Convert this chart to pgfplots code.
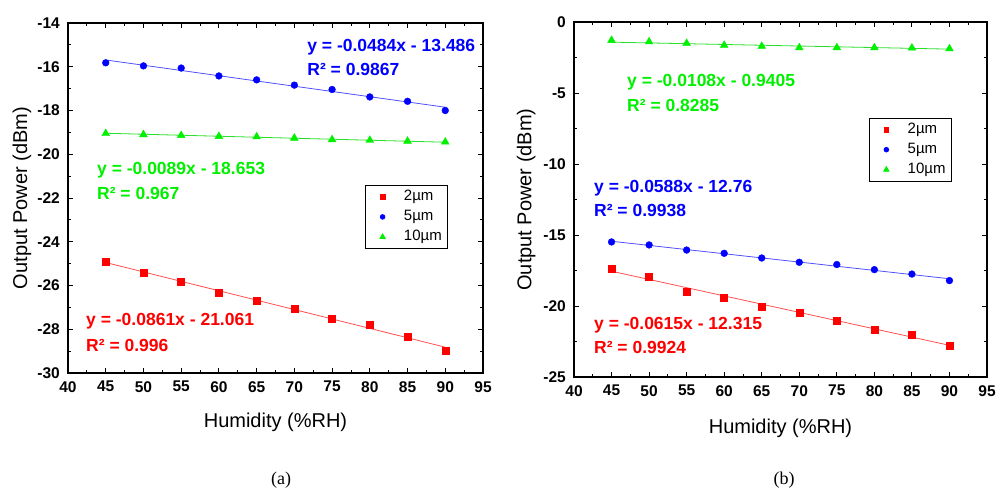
\documentclass[border=0pt]{standalone}
\usepackage{fontspec}
\setmainfont{Liberation Sans}
\newfontfamily\seriffont{Liberation Serif}
\usepackage{pgfplots}
\pgfplotsset{compat=1.18}

\definecolor{mred}{RGB}{255,0,0}
\definecolor{mblue}{RGB}{0,0,255}
\definecolor{mgreen}{RGB}{0,240,0}
\definecolor{lred}{RGB}{255,80,80}
\definecolor{lblue}{RGB}{80,80,255}
\definecolor{lgreen}{RGB}{40,225,40}
\newcommand\eqfont{\fontsize{17.5bp}{20bp}\selectfont\bfseries}

\pgfplotsset{
  myaxis/.style={
    scale only axis, clip=false,
    xmin=40, xmax=95, xtick={40,45,...,95}, minor x tick num=1,
    tick align=inside, xtick pos=both, ytick pos=both,
    major tick length=5bp, minor tick length=3bp,
    tick style={black, line width=0.9bp},
    axis line style={line width=1.2bp},
    ticklabel style={font=\fontsize{15.5bp}{18bp}\selectfont\bfseries},
    xticklabel style={inner sep=0pt, yshift=-8bp},
    yticklabel style={inner sep=0pt, xshift=-8bp},
    /pgf/number format/assume math mode=true,
    label style={font=\fontsize{20bp}{24bp}\selectfont},
    xlabel={Humidity (\%RH)},
    ylabel={Output Power (dBm)},
    legend style={font=\fontsize{15bp}{18bp}\selectfont, draw=black, line width=0.7bp,
      inner xsep=2bp, inner ysep=2.5bp, row sep=2bp,
      nodes={inner xsep=4bp, inner ysep=2bp, text height=11bp, text depth=3bp}},
    legend cell align=left,
    legend image code/.code={%
      \path (-15bp,0bp) (17bp,0bp);
      \draw[##1, every mark/.append style={scale=0.7}] plot coordinates {(0bp,0bp)};},
  },
  sq/.style={only marks, mark=square*, mark size=3.5bp, color=mred},
  ci/.style={only marks, mark=*, mark size=3.4bp, color=mblue},
  tr/.style={only marks, mark=triangle*, mark size=4.5bp, color=mgreen},
}

\begin{document}
\begin{tikzpicture}
\path[use as bounding box] (0,0) rectangle (997bp,490bp);

% ---------- (a) ----------
\begin{axis}[myaxis,
  at={(68bp,117bp)}, anchor=south west, width=415bp, height=350bp,
  ymin=-30, ymax=-14, ytick={-30,-28,...,-14}, minor y tick num=1,
  xlabel style={at={(axis description cs:0.5,-0.14)}, anchor=center},
  ylabel style={at={(axis description cs:-0.111,0.5)}, anchor=center},
  legend style={at={(axis description cs:0.916,0.537)}, anchor=north east},
]
\addplot[lblue, line width=0.8bp, forget plot] coordinates {(45,-15.69) (90,-17.85)};
\addplot[lgreen, line width=0.8bp, forget plot] coordinates {(45,-19.04) (90,-19.45)};
\addplot[lred, line width=0.8bp, forget plot] coordinates {(45,-24.95) (90,-28.82)};
\addplot[sq] coordinates {(45,-24.93) (50,-25.40) (55,-25.84) (60,-26.31) (65,-26.71) (70,-27.06) (75,-27.52) (80,-27.79) (85,-28.35) (90,-28.96)};
\addplot[ci] coordinates {(45,-15.82) (50,-15.96) (55,-16.06) (60,-16.42) (65,-16.60) (70,-16.84) (75,-17.04) (80,-17.38) (85,-17.58) (90,-18.00)};
\addplot[tr] coordinates {(45,-19.05) (50,-19.10) (55,-19.14) (60,-19.18) (65,-19.20) (70,-19.26) (75,-19.33) (80,-19.36) (85,-19.40) (90,-19.44)};
\legend{2µm, 5µm, 10µm}
\node[anchor=west, text=mblue, font=\eqfont, inner sep=0pt] at (axis cs:71.7,-15.11) {y = -0.0484x - 13.486};
\node[anchor=west, text=mblue, font=\eqfont, inner sep=0pt] at (axis cs:71.7,-16.11) {R² = 0.9867};
\node[anchor=west, text=mgreen, font=\eqfont, inner sep=0pt] at (axis cs:43.84,-20.73) {y = -0.0089x - 18.653};
\node[anchor=west, text=mgreen, font=\eqfont, inner sep=0pt] at (axis cs:43.84,-21.78) {R² = 0.967};
\node[anchor=west, text=mred, font=\eqfont, inner sep=0pt] at (axis cs:42.39,-27.62) {y = -0.0861x - 21.061};
\node[anchor=west, text=mred, font=\eqfont, inner sep=0pt] at (axis cs:42.39,-28.72) {R² = 0.996};
\end{axis}

% ---------- (b) ----------
\begin{axis}[myaxis,
  at={(574bp,113bp)}, anchor=south west, width=413bp, height=355bp,
  ymin=-25, ymax=0, ytick={-25,-20,...,0}, minor y tick num=1,
  xlabel style={at={(axis description cs:0.5,-0.144)}, anchor=center},
  ylabel style={at={(axis description cs:-0.116,0.5)}, anchor=center},
  legend style={at={(axis description cs:0.915,0.73)}, anchor=north east},
]
\addplot[lgreen, line width=0.8bp, forget plot] coordinates {(45,-1.42) (90,-1.91)};
\addplot[lblue, line width=0.8bp, forget plot] coordinates {(45,-15.44) (90,-18.08)};
\addplot[lred, line width=0.8bp, forget plot] coordinates {(45,-17.55) (90,-22.77)};
\addplot[sq] coordinates {(45,-17.37) (50,-17.93) (55,-18.96) (60,-19.39) (65,-20.04) (70,-20.49) (75,-21.03) (80,-21.64) (85,-21.99) (90,-22.77)};
\addplot[ci] coordinates {(45,-15.49) (50,-15.70) (55,-16.06) (60,-16.29) (65,-16.62) (70,-16.92) (75,-17.08) (80,-17.44) (85,-17.75) (90,-18.21)};
\addplot[tr] coordinates {(45,-1.29) (50,-1.39) (55,-1.50) (60,-1.64) (65,-1.71) (70,-1.81) (75,-1.81) (80,-1.81) (85,-1.83) (90,-1.88)};
\legend{2µm, 5µm, 10µm}
\node[anchor=west, text=mgreen, font=\eqfont, inner sep=0pt] at (axis cs:47.06,-4.25) {y = -0.0108x - 0.9405};
\node[anchor=west, text=mgreen, font=\eqfont, inner sep=0pt] at (axis cs:47.06,-5.87) {R² = 0.8285};
\node[anchor=west, text=mblue, font=\eqfont, inner sep=0pt] at (axis cs:42.66,-11.71) {y = -0.0588x - 12.76};
\node[anchor=west, text=mblue, font=\eqfont, inner sep=0pt] at (axis cs:42.66,-13.26) {R² = 0.9938};
\node[anchor=west, text=mred, font=\eqfont, inner sep=0pt] at (axis cs:42.66,-21.36) {y = -0.0615x - 12.315};
\node[anchor=west, text=mred, font=\eqfont, inner sep=0pt] at (axis cs:42.66,-22.91) {R² = 0.9924};
\end{axis}

\node[font=\seriffont\fontsize{18bp}{20bp}\selectfont] at (281bp,10bp) {(a)};
\node[font=\seriffont\fontsize{18bp}{20bp}\selectfont] at (784bp,10bp) {(b)};
\end{tikzpicture}
\end{document}
